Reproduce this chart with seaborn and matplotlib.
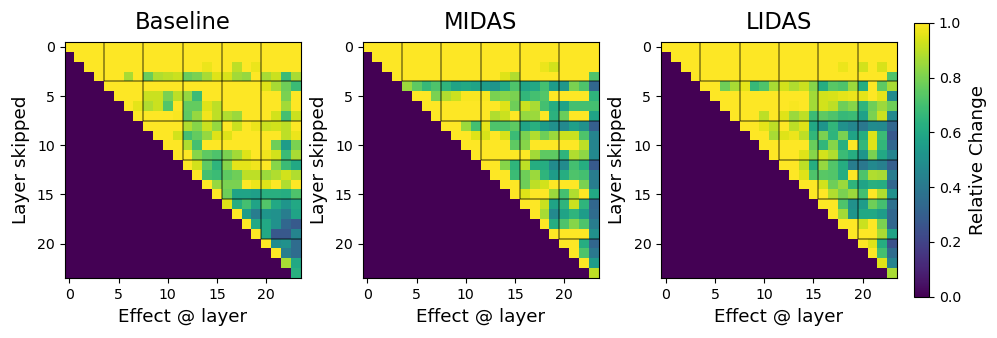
import numpy as np
import matplotlib
matplotlib.use("Agg")
import matplotlib.pyplot as plt
import seaborn as sns

titles = ["Baseline", "MIDAS", "LIDAS"]
x_label = "Effect @ layer"
y_label = "Layer skipped"
cbar_label = "Relative Change"
tick_labels = [0, 5, 10, 15, 20]
cbar_ticks = [0.0, 0.2, 0.4, 0.6, 0.8, 1.0]
group_edges = [4, 8, 12, 16, 20]

# Each row lists values from the diagonal to the last column.
baseline = [
    [1] * 24,
    [1] * 23,
    [1] * 12 + [.97, 1, 1, .9, 1, .97, 1, 1, 1, 1],
    [1, 1, 1, .87, 1, .77, .88, .9, .92, .77, .8, .87, .95, .94, .86, .84, 1, .87, .92, .68, .87],
    [1] * 16 + [.95, .87, .78, .68],
    [1, 1, 1, .92, .92, .8, .9, .84, .68, 1, 1, 1, 1, 1, 1, 1, 1, .8, 1],
    [1, .96, .88, .92, .73, 1, .76, .76, .95, .9, 1, 1, 1, 1, 1, 1, .86, 1],
    [1, 1, 1, 1, .99, .75, .84, .98, .9, .88, .85, 1, 1, 1, .93, .7, .92],
    [1, 1, 1, 1, .88, .82, .92, .84, 1, .92, 1, .97, .92, .93, .9, 1],
    [1, 1, .93, .7, .76, .84, .95, .95, 1, 1, 1, 1, 1, .9, .97],
    [1, 1, .88, .7, 1, 1, 1, 1, 1, 1, 1, .78, .55, .8],
    [1, 1, .82, .75, .72, .8, .86, .95, 1, .98, .93, .68, .87],
    [1, .93, .75, .65, .82, .96, .96, .98, 1, .82, .68, .6],
    [1, .7, .68, .75, .78, .9, .9, .85, .88, .93, .88],
    [1, .84, .8, .8, 1, .97, .95, 1, .88, 1],
    [1, .78, .58, .58, .56, .63, .63, .62, .72],
    [.95, .62, .7, .58, .73, .6, .52, .6],
    [1, .55, .42, .52, .5, .42, .58],
    [1, .6, .6, .5, .33, .28],
    [1, .6, .27, .27, .45],
    [1, .48, .5, .35],
    [1, .42, .35],
    [.87, .6],
    [.63],
]
midas = [
    [1] * 24,
    [1] * 23,
    [1] * 16 + [.97, .93, 1, 1, 1, 1],
    [1] * 11 + [.95, .88] + [1] * 7 + [.72],
    [.85, .75, .67, .72, .65, .58, .6, .58, .55, .52, .6, .72, .58, .6, .7, .55, .53, .8, .72, .33],
    [1, 1, .8, .88, .92, .99, .99, .99, .8, .82, .8, .66, .7, .73, 1, 1, 1, 1, .65],
    [1, 1, 1, 1, 1, 1, 1, 1, .95, .78, .92, .87, .7, .62, .58, .7, .7, .7],
    [1, 1, 1, 1, 1, 1, .88, .92, 1, .84, .85, 1, .64, .77, 1, 1, .58],
    [1, 1, .85, .7, .96, .72, .72, .75, .58, .63, .55, .5, .47, .56, .5, .3],
    [1, 1, .95, .94, 1, .94, .68, .8, .88, .78, .85, .92, .92, .72, .45],
    [1, 1, 1, 1, 1, .75, .82, 1, 1, 1, 1, 1, .9, .45],
    [1, 1, 1, 1, 1, 1, .86, .75, .75, .65, .88, .83, .47],
    [1, 1, .82, .65, .9, .62, .62, .48, .48, .7, .62, .28],
    [1, 1, .68, .78, .85, .65, .55, .62, .72, .7, .42],
    [1, 1, .78, .9, .93, 1, 1, 1, .8, .42],
    [1, .95, 1, 1, .85, .7, .88, 1, .6],
    [1, 1, .92, .58, .65, .92, .65, .33],
    [1, .87, .47, .58, .65, .55, .35],
    [1, .62, .72, .82, .72, .42],
    [1, 1, 1, 1, .5],
    [1, 1, .62, .33],
    [1, .72, .4],
    [1, .55],
    [.9],
]
lidas = [
    [1] * 24,
    [1] * 23,
    [1] * 16 + [.97, 1, .93, 1, .94, 1],
    [1] * 20 + [.72],
    [1, 1, .78, .87, .96, .67, .72, .87, .93, .88, .92, .82, .62, .74, .72, .85, .62, 1, .75, .87],
    [1] * 10 + [.86, .93, .94, .96, .97, .96, 1, .96, .48],
    [1] * 7 + [.99, 1, .86, .93, .9, .78, .82, .65, .78, .85, .78],
    [1, 1, 1, .9, 1, .95, .85, .9, .68, .75, .72, .67, .68, .57, .8, .92, .47],
    [1, 1, .96, .9, 1, .9, .95, .6, .52, .66, .5, .46, .4, .48, .47, .33],
    [1, 1, .87, .95, .97, .9, .66, .8, .65, .8, .58, .62, .95, .68, .27],
    [1, 1, 1, 1, 1, .77, .66, .82, .63, 1, .66, .95, .66, .33],
    [1, 1, 1, .95, .82, .93, .88, .68, .62, .52, .8, .6, .45],
    [1, 1, .9, .62, .84, .73, .62, .42, .4, .47, .43, .3],
    [1, .95, .72, .74, .73, .62, 1, .72, .88, .87, .42],
    [1, 1, .93, .78, .85, .65, .58, .63, .62, .33],
    [1, 1, .88, .8, .85, .7, 1, .88, .5],
    [1, 1, .72, .5, .55, .78, .7, .37],
    [1, .86, .52, .6, .6, .55, .33],
    [1, 1, .92, 1, .8, .33],
    [1, 1, 1, .87, .58],
    [1, .95, .62, .25],
    [1, .7, .35],
    [.95, .45],
    [.87],
]


def to_matrix(rows):
    size = len(rows)
    matrix = np.zeros((size, size))
    for i, row in enumerate(rows):
        matrix[i, i:] = row
    return matrix


sns.set_theme(style="white", rc={"font.family": "DejaVu Sans"})
plt.rcParams["axes.edgecolor"] = "black"
plt.rcParams["axes.linewidth"] = 0.8

W, H = 997, 338
fig = plt.figure(figsize=(W / 100, H / 100), dpi=100)
lefts = [64.5, 362.5, 661]
for left, title, rows in zip(lefts, titles, [baseline, midas, lidas]):
    ax = fig.add_axes([left / W, 1 - 278 / H, 236 / W, 236 / H])
    matrix = to_matrix(rows)
    sns.heatmap(matrix, ax=ax, cmap="viridis", vmin=0, vmax=1, cbar=False,
                square=False, xticklabels=False, yticklabels=False)
    for edge in group_edges:
        ax.vlines(edge, 0, edge, color="black", alpha=0.5, lw=1.1)
        ax.hlines(edge, edge, len(matrix), color="black", alpha=0.5, lw=1.1)
    ax.set_xticks(np.array(tick_labels) + 0.5, labels=tick_labels, rotation=0)
    ax.set_yticks(np.array(tick_labels) + 0.5, labels=tick_labels, rotation=0)
    ax.tick_params(axis="both", which="major", length=3.5, width=0.8, labelsize=10.2,
                   bottom=True, left=True, color="black", labelcolor="black", pad=3.5)
    ax.set_xlabel(x_label, fontsize=13.2, color="black", labelpad=4.5)
    ax.set_ylabel(y_label, fontsize=13.2, color="black", labelpad=5)
    ax.set_title(title, fontsize=16.3, color="black", pad=9.5)
    for spine in ax.spines.values():
        spine.set_visible(True)
        spine.set_color("black")
        spine.set_linewidth(0.8)

cax = fig.add_axes([914 / W, 1 - 296.5 / H, 15 / W, 273.5 / H])
norm = matplotlib.colors.Normalize(0, 1)
cbar = fig.colorbar(matplotlib.cm.ScalarMappable(norm=norm, cmap="viridis"), cax=cax)
cbar.set_ticks(cbar_ticks)
cbar.ax.tick_params(labelsize=10.2, length=3.5, width=0.8, color="black", labelcolor="black")
cbar.set_label(cbar_label, fontsize=13.2, color="black", labelpad=6)
cbar.outline.set_edgecolor("black")
cbar.outline.set_linewidth(0.8)

fig.savefig("out.png", dpi=100, facecolor="white")
